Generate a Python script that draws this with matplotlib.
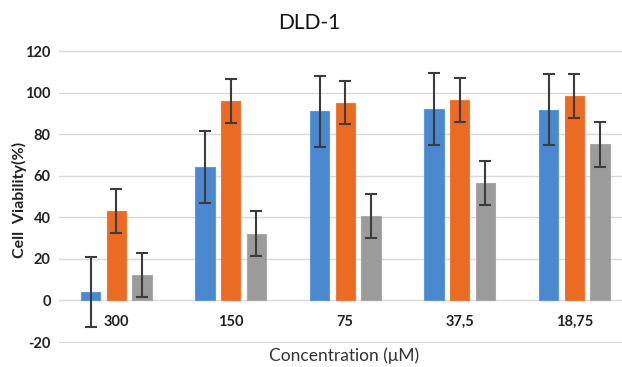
import matplotlib
matplotlib.use("Agg")
import matplotlib.pyplot as plt
import numpy as np

plt.rcParams['font.family'] = ['Lato', 'DejaVu Sans']

categories = ["300", "150", "75", "37,5", "18,75"]
blue_vals = [4.0, 64.0, 91.0, 92.3, 91.7]
blue_err = [17.0, 17.3, 17.0, 17.3, 17.0]
orange_vals = [43.1, 95.8, 95.2, 96.5, 98.4]
orange_err = [10.7, 10.6, 10.3, 10.7, 10.7]
gray_vals = [12.2, 32.1, 40.5, 56.4, 75.1]
gray_err = [10.7, 10.7, 10.7, 10.7, 10.7]
yticks = [-20, 0, 20, 40, 60, 80, 100, 120]

W, H = 622, 367
fig = plt.figure(figsize=(W / 100, H / 100), dpi=100)
ppu = 291 / 140.0
bottom_px = 342 + 0.5 * ppu
top_px = 51 - 0.5 * ppu
ax = fig.add_axes([59 / W, (H - bottom_px) / H, (622 - 59) / W, (bottom_px - top_px) / H])

x = np.arange(len(categories))
bw = 0.17
off = 0.223
colors = ['#4A89CF', '#EB6B23', '#9B9B9B']
edges = ['#5B9BDB', '#F07A35', '#A8A8A8']
ekw = dict(ecolor='#3c3c3c', elinewidth=1.5, capsize=4, capthick=1.5)
for i, (vals, errs) in enumerate([(blue_vals, blue_err), (orange_vals, orange_err), (gray_vals, gray_err)]):
    ax.bar(x + (i - 1) * off, vals, bw, yerr=errs, color=colors[i], edgecolor=edges[i],
           linewidth=0.8, error_kw=ekw, zorder=3)

ax.set_xlim(-0.5, -0.5 + 563 / 114.5)
ax.set_ylim(-20.5, 120.5)
ax.set_yticks(yticks)
ax.set_yticklabels([str(v) for v in yticks], fontsize=10.5, fontweight='bold', color='#222222')
ax.tick_params(axis='y', length=0, pad=6)
ax.set_xticks([])
ax.grid(axis='y', color='#d9d9d9', linewidth=1.0, zorder=0)
for s in ax.spines.values():
    s.set_visible(False)

for xi, lab in zip(x, categories):
    ax.text(xi, -10.5, lab, ha='center', va='center', fontsize=10.5, fontweight='bold', color='#222222')

fig.text(309 / W, 1 - 23 / H, "DLD-1", ha='center', va='center', fontsize=15, color='#111111')
fig.text(344 / W, 1 - 356 / H, "Concentration (μM)", ha='center', va='center', fontsize=12.5, color='#333333')
fig.text(19 / W, 1 - 200 / H, "Cell  Viability(%)", ha='center', va='center', rotation=90,
         fontsize=11.5, fontweight='bold', color='#222222')

fig.savefig("out.png", dpi=100)
